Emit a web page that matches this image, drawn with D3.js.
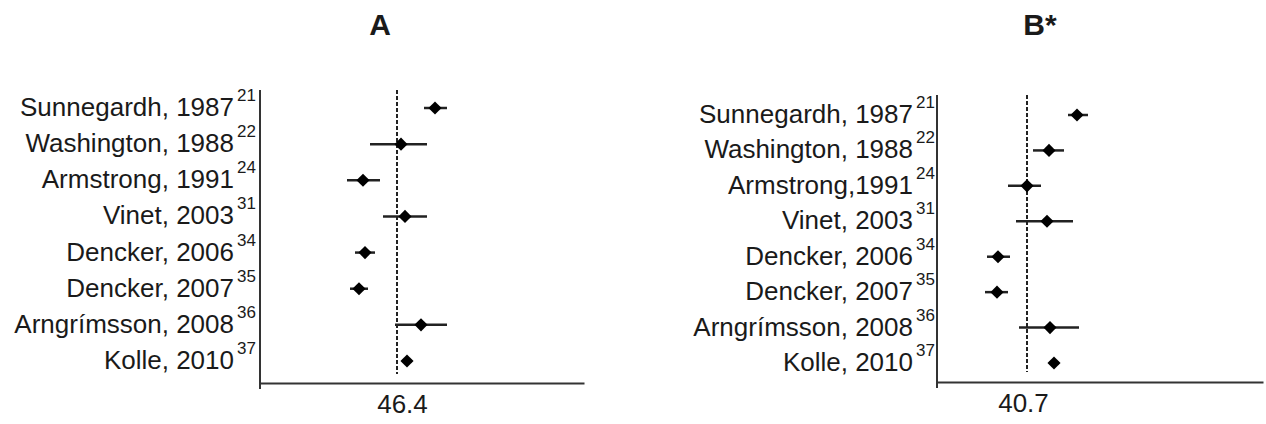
<!DOCTYPE html>
<html><head><meta charset="utf-8">
<script src="https://cdn.jsdelivr.net/npm/d3@7"></script>
<style>body{margin:0;background:#fff}svg{display:block}text{font-family:"Liberation Sans",Arial,sans-serif;fill:#1a1a1a}</style>
</head><body><div id="c"></div>
<script>
const studies = ["Sunnegardh, 1987","Washington, 1988","Armstrong, 1991","Vinet, 2003","Dencker, 2006","Dencker, 2007","Arngrímsson, 2008","Kolle, 2010"];
const studiesB = ["Sunnegardh, 1987","Washington, 1988","Armstrong,1991","Vinet, 2003","Dencker, 2006","Dencker, 2007","Arngrímsson, 2008","Kolle, 2010"];
const refs = ["21","22","24","31","34","35","36","37"];
const panelTitles = ["A","B*"];
const pooled = [46.4, 40.7];
const meanA = [48.3, 46.6, 44.7, 46.8, 44.8, 44.5, 47.6, 46.9];
const lowA  = [47.75,45.05,43.9, 45.7, 44.3, 44.05,46.3, 46.65];
const highA = [48.9, 47.9, 45.55,47.9, 45.3, 44.95,48.9, 47.15];
const meanB = [43.2, 41.8, 40.7, 41.7, 39.25,39.2, 41.85,42.05];
const lowB  = [42.75,41.0, 39.75,40.15,38.7, 38.6, 40.3, 41.8];
const highB = [43.75,42.55,41.4, 43.0, 39.85,39.75,43.3, 42.3];

const W = 1266, H = 424;
const svg = d3.select("#c").append("svg").attr("width", W).attr("height", H);

const panels = [
  {title: panelTitles[0], labels: studies, mean: meanA, low: lowA, high: highA, pooled: pooled[0],
   domain: [39.55, 55.75], range: [260, 584], yRange: [108, 361], axisTop: 90, axisY: 383, titleX: 380, labelEnd: 234, dashTop: 90, dashBot: 374, tickDx: 5},
  {title: panelTitles[1], labels: studiesB, mean: meanB, low: lowB, high: highB, pooled: pooled[1],
   domain: [36.2, 52.5], range: [937, 1263], yRange: [115, 363], axisTop: 95, axisY: 382, titleX: 1040, labelEnd: 913, dashTop: 95, dashBot: 372, tickDx: -4}
];

panels.forEach(p => {
  const g = svg.append("g");
  const x = d3.scaleLinear().domain(p.domain).range(p.range);
  const y = d3.scalePoint().domain(p.labels).range(p.yRange);

  g.append("text").attr("x", p.titleX).attr("y", 35).attr("text-anchor", "middle")
    .attr("font-size", 30).attr("font-weight", "bold").text(p.title);

  g.append("line").attr("x1", p.range[0]).attr("x2", p.range[0])
    .attr("y1", p.axisTop).attr("y2", p.axisY + 6).attr("stroke", "#333").attr("stroke-width", 2);

  const ax = g.append("g").attr("transform", `translate(0,${p.axisY})`)
    .call(d3.axisBottom(x).tickValues([p.pooled]).tickSize(0).tickSizeOuter(0).tickFormat(d3.format(".1f")));
  ax.select(".domain").attr("stroke", "#333").attr("stroke-width", 2);
  ax.selectAll(".tick text").attr("font-size", 26).attr("dy", "1.05em").attr("dx", p.tickDx)
    .attr("fill", "#1a1a1a").attr("font-family", '"Liberation Sans",Arial,sans-serif');

  g.append("line").attr("x1", x(p.pooled)).attr("x2", x(p.pooled))
    .attr("y1", p.dashTop).attr("y2", p.dashBot)
    .attr("stroke", "#222").attr("stroke-width", 2).attr("stroke-dasharray", "4,2");

  p.labels.forEach((lab, i) => {
    g.append("text").attr("x", p.labelEnd).attr("y", y(lab) + 8)
      .attr("text-anchor", "end").attr("font-size", 26).text(lab);
    g.append("text").attr("x", p.labelEnd + 3).attr("y", y(lab) + 8 - 15)
      .attr("font-size", 17).text(refs[i]);
  });

  g.selectAll(".ci").data(p.labels).join("line")
    .attr("x1", (d, i) => x(p.low[i])).attr("x2", (d, i) => x(p.high[i]))
    .attr("y1", d => y(d)).attr("y2", d => y(d))
    .attr("stroke", "#222").attr("stroke-width", 2.5);

  g.selectAll(".pt").data(p.labels).join("path")
    .attr("d", d3.symbol().type(d3.symbolDiamond2).size(110))
    .attr("transform", (d, i) => `translate(${x(p.mean[i])},${y(d)})`)
    .attr("fill", "#000");
});
</script></body></html>
